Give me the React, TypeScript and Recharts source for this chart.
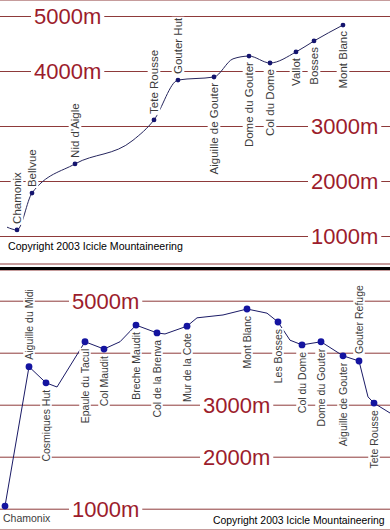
import React from "react";
import { CartesianGrid, LabelList, Line, LineChart, ReferenceLine, XAxis, YAxis } from "recharts";

// route up from Chamonix (top) and the traverse via Aiguille du Midi (bottom)
// dist is horizontal position along the route, elev in metres; "" = bend without a marker
const upNames = ["", "Chamonix", "Bellvue", "Nid d'Aigle", "", "Tete Rousse", "Gouter Hut", "Aiguille de Gouter", "", "Dome du Gouter", "Col du Dome", "Vallot", "Bosses", "Mont Blanc"];
const upDist = [7, 17, 32, 75, 133, 154, 178, 214, 233, 249, 270, 296, 314, 343];
const upElev = [1170, 1120, 1790, 2320, 2750, 3120, 3845, 3900, 4230, 4280, 4155, 4355, 4555, 4845];

const travNames = ["Chamonix", "Aiguille du Midi", "Cosmiques Hut", "", "Epaule du Tacul", "Col Maudit", "", "Breche Maudit", "Col de la Brenva", "", "Mur de la Cote", "", "", "Mont Blanc", "", "Les Bosses", "", "Col du Dome", "Dome du Gouter", "Aiguille de Gouter", "Gouter Refuge", "", "Tete Rousse", ""];
const travDist = [5, 29, 46, 57, 85, 104, 120, 136, 157, 165, 187, 197, 223, 247, 267, 278, 290, 302, 321, 343, 359, 368, 374, 390];
const travElev = [1060, 3740, 3430, 3350, 4220, 4080, 4220, 4540, 4390, 4370, 4520, 4680, 4735, 4850, 4770, 4600, 4250, 4160, 4220, 3950, 3850, 3160, 3040, 2850];

const ticks = [1000, 2000, 3000, 4000, 5000];
const tickLabels = ["1000m", "2000m", "3000m", "4000m", "5000m"];
const copyright = "Copyright 2003 Icicle Mountaineering";

const upData = upNames.map((name, i) => ({ name, dist: upDist[i], elev: upElev[i] }));
const travData = travNames.map((name, i) => ({ name, dist: travDist[i], elev: travElev[i] }));

const FONT = "'Liberation Sans', Arial, sans-serif";
const GRID = "#8e3a3a";
const AXIS_RED = "#9c1c2c";
const LABEL_GREY = "#3c3c3c";

const upAbove = new Set(["Chamonix", "Bellvue", "Nid d'Aigle", "Tete Rousse", "Gouter Hut"]);
const travAbove = new Set(["Aiguille du Midi", "Gouter Refuge"]);
const travFlat = new Set(["Chamonix"]);

// where each elevation label sits across the chart
const upTickX: Record<number, number> = { 5000: 34, 4000: 34, 3000: 311, 2000: 311, 1000: 311 };
const travTickX: Record<number, number> = { 5000: 72, 1000: 72, 3000: 203, 2000: 203 };

let ctx: CanvasRenderingContext2D | null = null;
const textWidth = (s: string, size: number) => {
  if (!ctx) ctx = document.createElement("canvas").getContext("2d");
  if (!ctx) return s.length * size * 0.55;
  ctx.font = `${size}px "Liberation Sans"`;
  return ctx.measureText(s).width;
};

const noTick = () => <g />;

const tickLabel = (label: string, x: number) => (props: any) => {
  const y = props.viewBox.y;
  const w = textWidth(label, 22);
  return (
    <g>
      <rect x={x - 3} y={y - 10} width={w + 6} height={20} fill="#fff" />
      <text x={x} y={y} dy="0.36em" fontSize={22} fill={AXIS_RED} fontFamily={FONT}>
        {label}
      </text>
    </g>
  );
};

const elevLabels = (xs: Record<number, number>) =>
  ticks
    .filter((t) => xs[t] !== undefined)
    .map((t) => (
      <ReferenceLine key={t} y={t} stroke="none" label={tickLabel(tickLabels[ticks.indexOf(t)], xs[t])} />
    ));

const makeLabel = (above: Set<string>, flat: Set<string>, size: number, gap: number) => (props: any) => {
  const { x, y, value } = props;
  if (!value) return <g />;
  if (flat.has(value)) {
    return (
      <text x={x - 2} y={y + 16} fontSize={size} fill={LABEL_GREY} fontFamily={FONT}>
        {value}
      </text>
    );
  }
  const up = above.has(value);
  const ty = up ? y - gap : y + gap;
  const w = textWidth(value, size);
  return (
    <g transform={`rotate(-90 ${x} ${ty})`}>
      <rect x={up ? x - 1 : x - w - 1} y={ty - size * 0.55} width={w + 2} height={size * 1.1} fill="#fff" />
      <text x={x} y={ty} dy="0.36em" textAnchor={up ? "start" : "end"} fontSize={size} fill={LABEL_GREY} fontFamily={FONT}>
        {value}
      </text>
    </g>
  );
};

const makeDot = (r: number, fill: string) => (p: any) =>
  p.payload.name ? <circle key={`d${p.index}`} cx={p.cx} cy={p.cy} r={r} fill={fill} /> : <g key={`d${p.index}`} />;

const App = () => {
  return (
    <div style={{ position: "absolute", left: 0, top: 0, width: 390, height: 530, background: "#fff", overflow: "hidden" }}>
      <LineChart width={390} height={267} data={upData} margin={{ top: 0, right: 0, bottom: 3, left: 0 }}>
        <CartesianGrid vertical={false} stroke={GRID} />
        <XAxis type="number" dataKey="dist" domain={[0, 390]} hide />
        <YAxis type="number" domain={[500, 5300]} ticks={ticks} interval={0} width={0} axisLine={false} tickLine={false} tick={noTick} />
        {elevLabels(upTickX)}
        <Line
          type="monotone"
          dataKey="elev"
          stroke="#26265e"
          strokeWidth={1}
          dot={makeDot(2.4, "#14146e")}
          activeDot={false}
          isAnimationActive={false}
        >
          <LabelList dataKey="name" content={makeLabel(upAbove, new Set(), 11.5, 6)} />
        </Line>
      </LineChart>

      <div style={{ height: 3, background: "#000" }} />

      <LineChart width={390} height={260} data={travData} margin={{ top: 0, right: 0, bottom: 0, left: 0 }}>
        <CartesianGrid vertical={false} stroke={GRID} />
        <XAxis type="number" dataKey="dist" domain={[0, 390]} hide />
        <YAxis type="number" domain={[600, 5600]} ticks={ticks} interval={0} width={0} axisLine={false} tickLine={false} tick={noTick} />
        {elevLabels(travTickX)}
        <Line
          type="linear"
          dataKey="elev"
          stroke="#1a1a66"
          strokeWidth={1}
          dot={makeDot(3.4, "#1414a0")}
          activeDot={false}
          isAnimationActive={false}
        >
          <LabelList dataKey="name" content={makeLabel(travAbove, travFlat, 10.5, 7)} />
        </Line>
      </LineChart>

      <svg width={390} height={530} style={{ position: "absolute", left: 0, top: 0, pointerEvents: "none" }}>
        <text x={8} y={250} fontSize={10.6} fill="#000" fontFamily={FONT}>
          {copyright}
        </text>
        <text x={213} y={524} fontSize={10.4} fill="#000" fontFamily={FONT}>
          {copyright}
        </text>
      </svg>
    </div>
  );
};

export default App;
